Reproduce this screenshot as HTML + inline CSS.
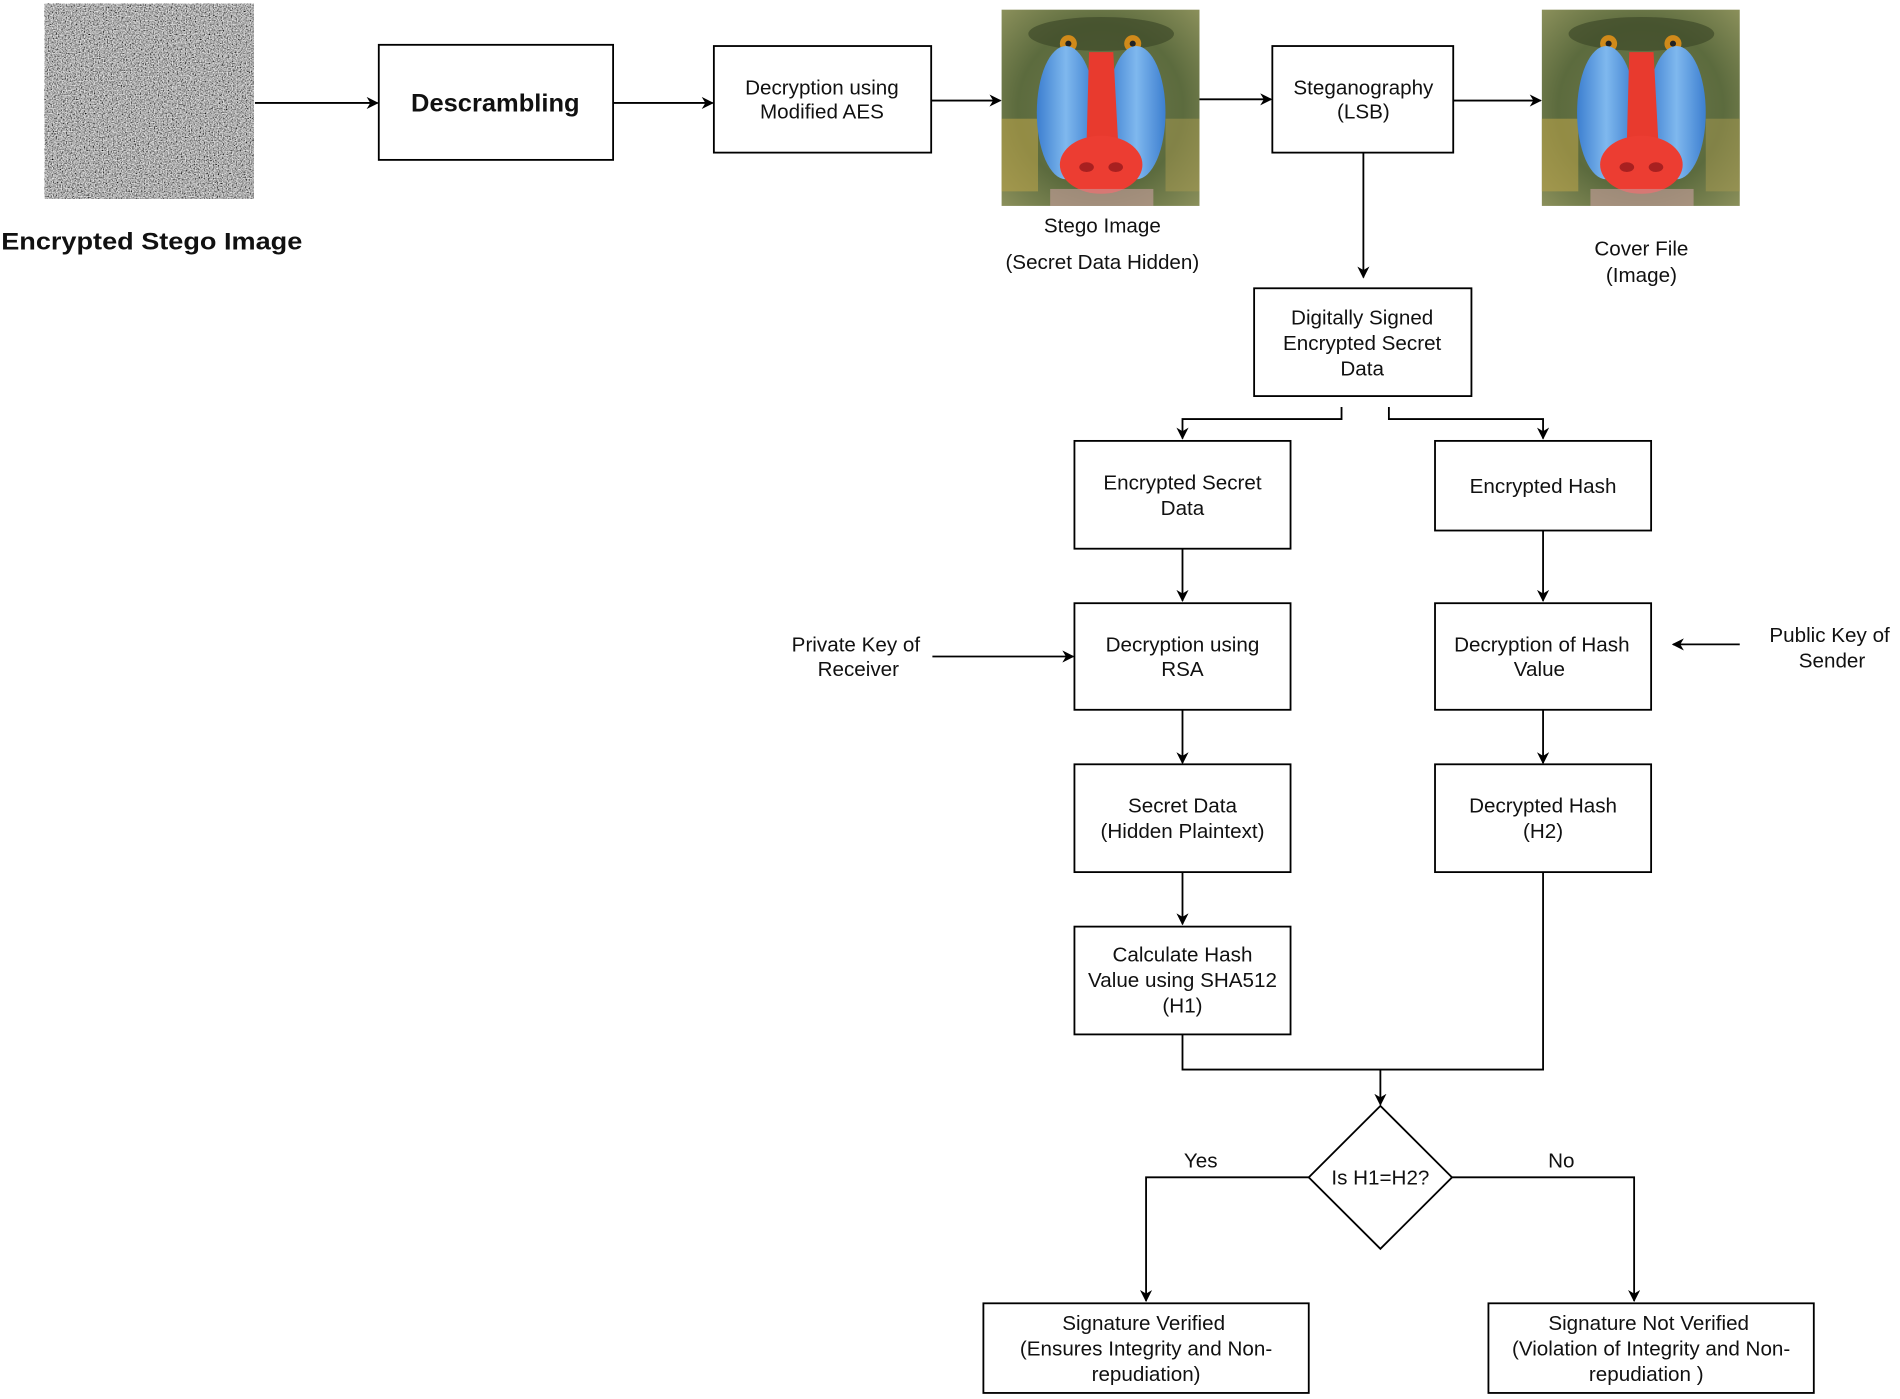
<!DOCTYPE html>
<html><head><meta charset="utf-8"><style>
html,body{margin:0;padding:0;background:#fff;}
svg{display:block;}
text{font-family:"Liberation Sans",Arial,sans-serif;font-size:17px;fill:#111;text-anchor:middle;}
</style></head><body>
<svg width="1900" height="1399" viewBox="0 0 1565 1155" preserveAspectRatio="none" xmlns="http://www.w3.org/2000/svg">
<defs>
<marker id="a" markerWidth="10" markerHeight="10" refX="9" refY="5" orient="auto" markerUnits="userSpaceOnUse">
<path d="M0,0 L10,5 L0,10 L3,5 z" fill="#000"/></marker>
<filter id="noise2" x="0" y="0" width="100%" height="100%">
<feTurbulence type="fractalNoise" baseFrequency="0.95" numOctaves="1" seed="7"/>
<feColorMatrix type="saturate" values="0"/>
<feComponentTransfer><feFuncR type="linear" slope="2.2" intercept="-0.68"/><feFuncG type="linear" slope="2.2" intercept="-0.68"/><feFuncB type="linear" slope="2.2" intercept="-0.68"/><feFuncA type="linear" slope="0" intercept="1"/></feComponentTransfer>
</filter>
<radialGradient id="bg" cx="50%" cy="50%" r="70%"><stop offset="0" stop-color="#6f7a4a"/><stop offset="0.6" stop-color="#5c6b3e"/><stop offset="1" stop-color="#8a8f5a"/></radialGradient>
<linearGradient id="blue" x1="0" x2="1"><stop offset="0" stop-color="#3d7fd0"/><stop offset="0.5" stop-color="#7fb8ee"/><stop offset="1" stop-color="#3d7fd0"/></linearGradient>
<g id="mandrill">
<rect width="163" height="162" fill="url(#bg)"/>
<rect x="0" y="90" width="30" height="60" fill="#b8a24a" opacity="0.6"/>
<rect x="135" y="90" width="28" height="60" fill="#a89a50" opacity="0.5"/>
<ellipse cx="82" cy="20" rx="60" ry="14" fill="#3e4a2a" opacity="0.7"/>
<circle cx="55" cy="28" r="7" fill="#d08a1a"/><circle cx="55" cy="28" r="2.5" fill="#222"/>
<circle cx="108" cy="28" r="7" fill="#d08a1a"/><circle cx="108" cy="28" r="2.5" fill="#222"/>
<ellipse cx="53" cy="85" rx="24" ry="55" fill="url(#blue)"/>
<ellipse cx="111" cy="85" rx="24" ry="55" fill="url(#blue)"/>
<path d="M72,35 L92,35 L96,110 L70,110 z" fill="#e83a2e"/>
<ellipse cx="82" cy="128" rx="34" ry="24" fill="#ec3d32"/>
<ellipse cx="70" cy="130" rx="6" ry="4" fill="#a82020"/><ellipse cx="94" cy="130" rx="6" ry="4" fill="#a82020"/>
<rect x="40" y="148" width="85" height="14" fill="#c9a0a0" opacity="0.6"/>
</g>
</defs>
<rect width="1565" height="1155" fill="#fff"/>

<rect x="37" y="3" width="172" height="161" fill="#777"/>
<rect x="37" y="3" width="172" height="161" filter="url(#noise2)"/>
<text x="125" y="206" textLength="248" lengthAdjust="spacingAndGlyphs" style="font-size:20px;font-weight:bold">Encrypted Stego Image</text>

<g fill="none" stroke="#000" stroke-width="1.5">
<line x1="210" y1="85" x2="311" y2="85" marker-end="url(#a)"/>
<rect x="312" y="37" width="193" height="95"/>
<line x1="505" y1="85" x2="587" y2="85" marker-end="url(#a)"/>
<rect x="588" y="38" width="179" height="88"/>
<line x1="767" y1="83" x2="824" y2="83" marker-end="url(#a)"/>
<line x1="988" y1="82" x2="1047" y2="82" marker-end="url(#a)"/>
<rect x="1048" y="38" width="149" height="88"/>
<line x1="1197" y1="83" x2="1269" y2="83" marker-end="url(#a)"/>
<line x1="1123" y1="126" x2="1123" y2="229" marker-end="url(#a)"/>
<rect x="1033" y="238" width="179" height="89"/>
<polyline points="1105,336 1105,346 974,346 974,362" marker-end="url(#a)"/>
<polyline points="1144,336 1144,346 1271,346 1271,362" marker-end="url(#a)"/>
<rect x="885" y="364" width="178" height="89"/>
<rect x="1182" y="364" width="178" height="74"/>
<line x1="974" y1="453" x2="974" y2="496" marker-end="url(#a)"/>
<line x1="1271" y1="438" x2="1271" y2="496" marker-end="url(#a)"/>
<rect x="885" y="498" width="178" height="88"/>
<rect x="1182" y="498" width="178" height="88"/>
<line x1="768" y1="542" x2="884" y2="542" marker-end="url(#a)"/>
<line x1="1433" y1="532" x2="1378" y2="532" marker-end="url(#a)"/>
<line x1="974" y1="586" x2="974" y2="630" marker-end="url(#a)"/>
<line x1="1271" y1="586" x2="1271" y2="630" marker-end="url(#a)"/>
<rect x="885" y="631" width="178" height="89"/>
<rect x="1182" y="631" width="178" height="89"/>
<line x1="974" y1="720" x2="974" y2="763" marker-end="url(#a)"/>
<rect x="885" y="765" width="178" height="89"/>
<polyline points="974,854 974,883 1271,883 1271,720"/>
<line x1="1137" y1="883" x2="1137" y2="912" marker-end="url(#a)"/>
<polygon points="1137,913 1196,972 1137,1031 1078,972"/>
<polyline points="1078,972 944,972 944,1074" marker-end="url(#a)"/>
<polyline points="1196,972 1346,972 1346,1074" marker-end="url(#a)"/>
<rect x="810" y="1076" width="268" height="74"/>
<rect x="1226" y="1076" width="268" height="74"/>
</g>

<use href="#mandrill" x="825" y="8"/>
<use href="#mandrill" x="1270" y="8"/>

<text x="408" y="92" style="font-size:21px;font-weight:bold">Descrambling</text>
<text x="677" y="78">Decryption using</text>
<text x="677" y="98">Modified AES</text>
<text x="908" y="192">Stego Image</text>
<text x="908" y="222">(Secret Data Hidden)</text>
<text x="1123" y="78">Steganography</text>
<text x="1123" y="98">(LSB)</text>
<text x="1352" y="211">Cover File</text>
<text x="1352" y="233">(Image)</text>
<text x="1122" y="268">Digitally Signed</text>
<text x="1122" y="289">Encrypted Secret</text>
<text x="1122" y="310">Data</text>
<text x="974" y="404">Encrypted Secret</text>
<text x="974" y="425">Data</text>
<text x="1271" y="407">Encrypted Hash</text>
<text x="974" y="538">Decryption using</text>
<text x="974" y="558">RSA</text>
<text x="1270" y="538">Decryption of Hash</text>
<text x="1268" y="558">Value</text>
<text x="705" y="538">Private Key of</text>
<text x="707" y="558">Receiver</text>
<text x="1507" y="530">Public Key of</text>
<text x="1509" y="551">Sender</text>
<text x="974" y="671">Secret Data</text>
<text x="974" y="692">(Hidden Plaintext)</text>
<text x="1271" y="671">Decrypted Hash</text>
<text x="1271" y="692">(H2)</text>
<text x="974" y="794">Calculate Hash</text>
<text x="974" y="815">Value using SHA512</text>
<text x="974" y="836">(H1)</text>
<text x="1137" y="978">Is H1=H2?</text>
<text x="989" y="964">Yes</text>
<text x="1286" y="964">No</text>
<text x="942" y="1098">Signature Verified</text>
<text x="944" y="1119">(Ensures Integrity and Non-</text>
<text x="944" y="1140">repudiation)</text>
<text x="1358" y="1098">Signature Not Verified</text>
<text x="1360" y="1119">(Violation of Integrity and Non-</text>
<text x="1356" y="1140">repudiation )</text>
</svg>
</body></html>
